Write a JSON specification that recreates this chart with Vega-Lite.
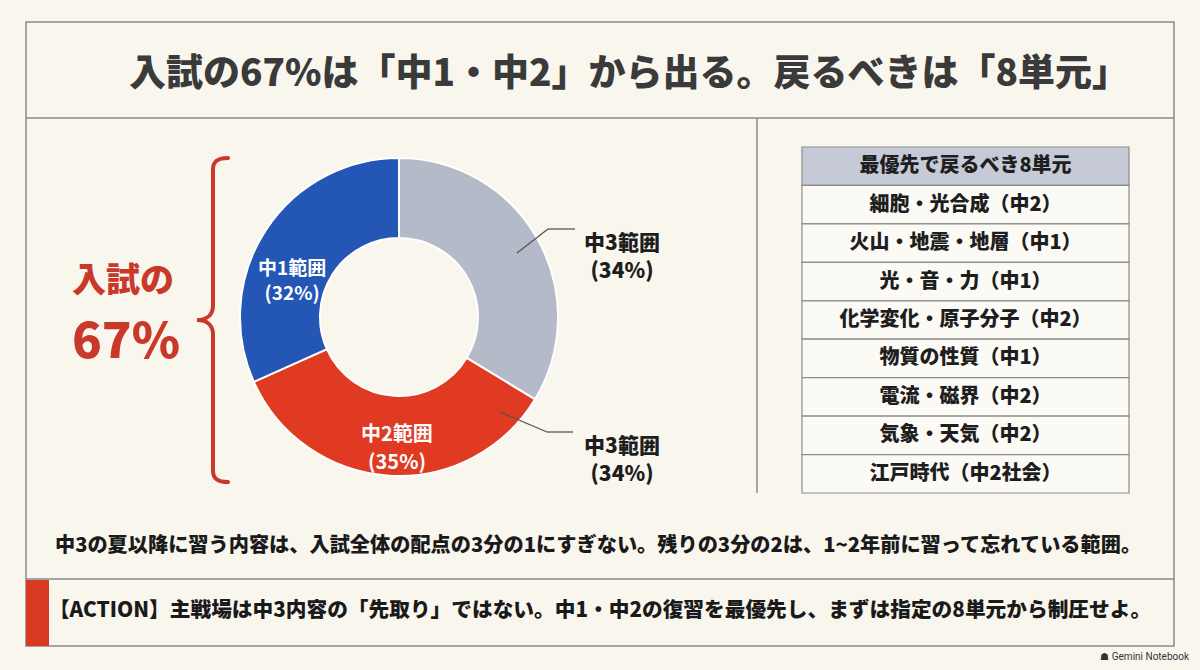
{
  "$schema": "https://vega.github.io/schema/vega-lite/v6.json",
  "width": 1200,
  "height": 670,
  "padding": 0,
  "autosize": {"type": "none"},
  "background": "#f9f6ee",
  "config": {"view": {"stroke": null}, "font": "Noto Sans CJK JP", "text": {"font": "Noto Sans CJK JP"}},
  "data": {"values": [{}]},
  "layer": [
    {
      "layer": [
        {
          "mark": {"type": "rect", "filled": false, "stroke": "#8a8a8a", "strokeWidth": 1.5},
          "encoding": {
            "x": {"datum": 26, "type": "quantitative", "scale": {"domain": [0, 1200], "nice": false, "zero": false}, "axis": null},
            "x2": {"datum": 1174},
            "y": {"datum": 22, "type": "quantitative", "scale": {"domain": [0, 670], "reverse": true, "nice": false, "zero": false}, "axis": null},
            "y2": {"datum": 646}
          }
        },
        {
          "mark": {"type": "rule", "stroke": "#8a8a8a", "strokeWidth": 1.5},
          "encoding": {
            "x": {"datum": 26, "type": "quantitative", "scale": {"domain": [0, 1200], "nice": false, "zero": false}, "axis": null},
            "x2": {"datum": 1174},
            "y": {"datum": 118, "type": "quantitative", "scale": {"domain": [0, 670], "reverse": true, "nice": false, "zero": false}, "axis": null}
          }
        },
        {
          "mark": {"type": "rule", "stroke": "#8a8a8a", "strokeWidth": 1.5},
          "encoding": {
            "x": {"datum": 757, "type": "quantitative", "scale": {"domain": [0, 1200], "nice": false, "zero": false}, "axis": null},
            "y": {"datum": 118, "type": "quantitative", "scale": {"domain": [0, 670], "reverse": true, "nice": false, "zero": false}, "axis": null},
            "y2": {"datum": 493}
          }
        },
        {
          "mark": {"type": "rule", "stroke": "#8a8a8a", "strokeWidth": 1.5},
          "encoding": {
            "x": {"datum": 26, "type": "quantitative", "scale": {"domain": [0, 1200], "nice": false, "zero": false}, "axis": null},
            "x2": {"datum": 1174},
            "y": {"datum": 579, "type": "quantitative", "scale": {"domain": [0, 670], "reverse": true, "nice": false, "zero": false}, "axis": null}
          }
        },
        {
          "mark": {"type": "rect", "fill": "#d93a22"},
          "encoding": {
            "x": {"datum": 26, "type": "quantitative", "scale": {"domain": [0, 1200], "nice": false, "zero": false}, "axis": null},
            "x2": {"datum": 49},
            "y": {"datum": 580, "type": "quantitative", "scale": {"domain": [0, 670], "reverse": true, "nice": false, "zero": false}, "axis": null},
            "y2": {"datum": 646}
          }
        },
        {
          "mark": {"type": "text", "text": "入試の67%は「中1・中2」から出る。戻るべきは「8単元」", "fontSize": 37, "fontWeight": 900, "fill": "#3a3a3a", "align": "center", "baseline": "middle"},
          "encoding": {
            "x": {"datum": 629, "type": "quantitative", "scale": {"domain": [0, 1200], "nice": false, "zero": false}, "axis": null},
            "y": {"datum": 75, "type": "quantitative", "scale": {"domain": [0, 670], "reverse": true, "nice": false, "zero": false}, "axis": null}
          }
        },
        {
          "mark": {"type": "point", "shape": "M 0.093 -1 C 0.03 -1 0 -0.98 0 -0.93 L 0 -0.09 C 0 -0.03 -0.04 0 -0.099 0 C -0.04 0 0 0.03 0 0.09 L 0 0.93 C 0 0.98 0.03 1 0.093 1", "size": 104976, "filled": false, "stroke": "#c8392b", "strokeWidth": 4, "strokeCap": "round", "opacity": 1},
          "encoding": {
            "x": {"datum": 213, "type": "quantitative", "scale": {"domain": [0, 1200], "nice": false, "zero": false}, "axis": null},
            "y": {"datum": 320, "type": "quantitative", "scale": {"domain": [0, 670], "reverse": true, "nice": false, "zero": false}, "axis": null}
          }
        },
        {
          "mark": {"type": "text", "text": "入試の", "fontSize": 34, "fontWeight": 900, "fill": "#c8392b", "align": "center", "baseline": "middle"},
          "encoding": {
            "x": {"datum": 123, "type": "quantitative", "scale": {"domain": [0, 1200], "nice": false, "zero": false}, "axis": null},
            "y": {"datum": 282, "type": "quantitative", "scale": {"domain": [0, 670], "reverse": true, "nice": false, "zero": false}, "axis": null}
          }
        },
        {
          "mark": {"type": "text", "text": "67%", "fontSize": 49, "fontWeight": 900, "fill": "#c8392b", "align": "center", "baseline": "middle"},
          "encoding": {
            "x": {"datum": 126, "type": "quantitative", "scale": {"domain": [0, 1200], "nice": false, "zero": false}, "axis": null},
            "y": {"datum": 343, "type": "quantitative", "scale": {"domain": [0, 670], "reverse": true, "nice": false, "zero": false}, "axis": null}
          }
        },
        {
          "data": {"name": "donut", "values": [
            {"range": "中3範囲", "pct": 34, "ord": 1, "lab": "中3範囲\n(34%)"},
            {"range": "中2範囲", "pct": 35, "ord": 2, "lab": "中2範囲\n(35%)"},
            {"range": "中1範囲", "pct": 32, "ord": 3, "lab": "中1範囲\n(32%)"}
          ]},
          "layer": [
            {
              "mark": {"type": "arc", "radius": 159, "radius2": 79, "stroke": "#ffffff", "strokeWidth": 2},
              "encoding": {
                "x": {"datum": 399, "type": "quantitative", "scale": {"domain": [0, 1200], "nice": false, "zero": false}, "axis": null},
                "y": {"datum": 317, "type": "quantitative", "scale": {"domain": [0, 670], "reverse": true, "nice": false, "zero": false}, "axis": null},
                "theta": {"field": "pct", "type": "quantitative", "stack": true},
                "order": {"field": "ord", "type": "quantitative"},
                "color": {"field": "range", "type": "nominal", "scale": {"domain": ["中3範囲", "中2範囲", "中1範囲"], "range": ["#b4bac8", "#e03a22", "#2457b5"]}, "legend": null}
              }
            },
            {
              "mark": {"type": "text", "radius": 117, "thetaOffset": -0.157, "fontSize": 19, "fontWeight": "bold", "fill": "#ffffff", "align": "center", "baseline": "middle", "lineBreak": "\n", "lineHeight": 25},
              "encoding": {
                "x": {"datum": 399, "type": "quantitative", "scale": {"domain": [0, 1200], "nice": false, "zero": false}, "axis": null},
                "y": {"datum": 317, "type": "quantitative", "scale": {"domain": [0, 670], "reverse": true, "nice": false, "zero": false}, "axis": null},
                "theta": {"field": "pct", "type": "quantitative", "stack": true},
                "order": {"field": "ord", "type": "quantitative"},
                "detail": {"field": "range", "type": "nominal"},
                "text": {"field": "lab", "type": "nominal"},
                "opacity": {"condition": {"test": "datum.range === '中1範囲'", "value": 1}, "value": 0}
              }
            },
            {
              "mark": {"type": "text", "radius": 118, "thetaOffset": -0.045, "fontSize": 20, "fontWeight": "bold", "fill": "#ffffff", "align": "center", "baseline": "middle", "lineBreak": "\n", "lineHeight": 28},
              "encoding": {
                "x": {"datum": 399, "type": "quantitative", "scale": {"domain": [0, 1200], "nice": false, "zero": false}, "axis": null},
                "y": {"datum": 317, "type": "quantitative", "scale": {"domain": [0, 670], "reverse": true, "nice": false, "zero": false}, "axis": null},
                "theta": {"field": "pct", "type": "quantitative", "stack": true},
                "order": {"field": "ord", "type": "quantitative"},
                "detail": {"field": "range", "type": "nominal"},
                "text": {"field": "lab", "type": "nominal"},
                "opacity": {"condition": {"test": "datum.range === '中2範囲'", "value": 1}, "value": 0}
              }
            }
          ]
        },
        {
          "mark": {"type": "rule", "stroke": "#555555", "strokeWidth": 1.3},
          "encoding": {
            "x": {"datum": 517, "type": "quantitative", "scale": {"domain": [0, 1200], "nice": false, "zero": false}, "axis": null},
            "x2": {"datum": 548},
            "y": {"datum": 253, "type": "quantitative", "scale": {"domain": [0, 670], "reverse": true, "nice": false, "zero": false}, "axis": null},
            "y2": {"datum": 229}
          }
        },
        {
          "mark": {"type": "rule", "stroke": "#555555", "strokeWidth": 1.3},
          "encoding": {
            "x": {"datum": 548, "type": "quantitative", "scale": {"domain": [0, 1200], "nice": false, "zero": false}, "axis": null},
            "x2": {"datum": 575},
            "y": {"datum": 229, "type": "quantitative", "scale": {"domain": [0, 670], "reverse": true, "nice": false, "zero": false}, "axis": null},
            "y2": {"datum": 229}
          }
        },
        {
          "mark": {"type": "rule", "stroke": "#555555", "strokeWidth": 1.3},
          "encoding": {
            "x": {"datum": 500, "type": "quantitative", "scale": {"domain": [0, 1200], "nice": false, "zero": false}, "axis": null},
            "x2": {"datum": 547},
            "y": {"datum": 412, "type": "quantitative", "scale": {"domain": [0, 670], "reverse": true, "nice": false, "zero": false}, "axis": null},
            "y2": {"datum": 432}
          }
        },
        {
          "mark": {"type": "rule", "stroke": "#555555", "strokeWidth": 1.3},
          "encoding": {
            "x": {"datum": 547, "type": "quantitative", "scale": {"domain": [0, 1200], "nice": false, "zero": false}, "axis": null},
            "x2": {"datum": 573},
            "y": {"datum": 432, "type": "quantitative", "scale": {"domain": [0, 670], "reverse": true, "nice": false, "zero": false}, "axis": null},
            "y2": {"datum": 432}
          }
        },
        {
          "mark": {"type": "text", "text": "中3範囲\n(34%)", "lineBreak": "\n", "lineHeight": 28, "fontSize": 21, "fontWeight": 900, "fill": "#1e1e1e", "align": "center", "baseline": "middle"},
          "encoding": {
            "x": {"datum": 622, "type": "quantitative", "scale": {"domain": [0, 1200], "nice": false, "zero": false}, "axis": null},
            "y": {"datum": 244, "type": "quantitative", "scale": {"domain": [0, 670], "reverse": true, "nice": false, "zero": false}, "axis": null}
          }
        },
        {
          "mark": {"type": "text", "text": "中3範囲\n(34%)", "lineBreak": "\n", "lineHeight": 28, "fontSize": 21, "fontWeight": 900, "fill": "#1e1e1e", "align": "center", "baseline": "middle"},
          "encoding": {
            "x": {"datum": 622, "type": "quantitative", "scale": {"domain": [0, 1200], "nice": false, "zero": false}, "axis": null},
            "y": {"datum": 447, "type": "quantitative", "scale": {"domain": [0, 670], "reverse": true, "nice": false, "zero": false}, "axis": null}
          }
        },
        {
          "mark": {"type": "text", "text": "中3の夏以降に習う内容は、入試全体の配点の3分の1にすぎない。残りの3分の2は、1~2年前に習って忘れている範囲。", "fontSize": 20.2, "fontWeight": 900, "fill": "#1a1a1a", "align": "center", "baseline": "middle"},
          "encoding": {
            "x": {"datum": 598, "type": "quantitative", "scale": {"domain": [0, 1200], "nice": false, "zero": false}, "axis": null},
            "y": {"datum": 546, "type": "quantitative", "scale": {"domain": [0, 670], "reverse": true, "nice": false, "zero": false}, "axis": null}
          }
        },
        {
          "mark": {"type": "text", "text": "【ACTION】主戦場は中3内容の「先取り」ではない。中1・中2の復習を最優先し、まずは指定の8単元から制圧せよ。", "fontSize": 20.7, "fontWeight": 900, "fill": "#1a1a1a", "align": "center", "baseline": "middle"},
          "encoding": {
            "x": {"datum": 600, "type": "quantitative", "scale": {"domain": [0, 1200], "nice": false, "zero": false}, "axis": null},
            "y": {"datum": 611, "type": "quantitative", "scale": {"domain": [0, 670], "reverse": true, "nice": false, "zero": false}, "axis": null}
          }
        },
        {
          "mark": {"type": "text", "text": "☗ Gemini Notebook", "fontSize": 10, "fill": "#333333", "align": "right", "baseline": "middle", "font": "Roboto"},
          "encoding": {
            "x": {"datum": 1189, "type": "quantitative", "scale": {"domain": [0, 1200], "nice": false, "zero": false}, "axis": null},
            "y": {"datum": 657, "type": "quantitative", "scale": {"domain": [0, 670], "reverse": true, "nice": false, "zero": false}, "axis": null}
          }
        }
      ]
    },
    {
      "data": {"name": "units", "values": [
        {"rank": 0, "item": "最優先で戻るべき8単元"},
        {"rank": 1, "item": "細胞・光合成（中2）"},
        {"rank": 2, "item": "火山・地震・地層（中1）"},
        {"rank": 3, "item": "光・音・力（中1）"},
        {"rank": 4, "item": "化学変化・原子分子（中2）"},
        {"rank": 5, "item": "物質の性質（中1）"},
        {"rank": 6, "item": "電流・磁界（中2）"},
        {"rank": 7, "item": "気象・天気（中2）"},
        {"rank": 8, "item": "江戸時代（中2社会）"}
      ]},
      "layer": [
        {
          "mark": {"type": "rect", "stroke": "#8c8c8c", "strokeWidth": 1.2},
          "encoding": {
            "x": {"datum": 802, "type": "quantitative", "scale": {"domain": [0, 1200], "nice": false, "zero": false}, "axis": null},
            "x2": {"datum": 1129},
            "y": {"field": "rank", "type": "ordinal", "scale": {"type": "band", "range": [147, 493], "paddingInner": 0, "paddingOuter": 0}, "axis": null},
            "color": {"condition": {"test": "datum.rank === 0", "value": "#c5cad6"}, "value": "#fbfaf5"}
          }
        },
        {
          "mark": {"type": "text", "fontSize": 20, "fontWeight": 900, "fill": "#1e1e1e", "align": "center", "baseline": "middle"},
          "encoding": {
            "x": {"datum": 965.5, "type": "quantitative", "scale": {"domain": [0, 1200], "nice": false, "zero": false}, "axis": null},
            "y": {"field": "rank", "type": "ordinal", "scale": {"type": "band", "range": [147, 493], "paddingInner": 0, "paddingOuter": 0}, "axis": null},
            "text": {"field": "item", "type": "nominal"}
          }
        }
      ]
    }
  ],
  "resolve": {"scale": {"y": "independent"}}
}
